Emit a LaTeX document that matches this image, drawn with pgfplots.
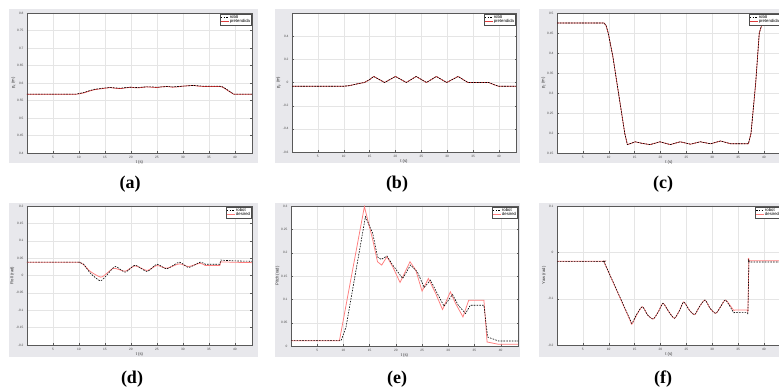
\documentclass[border=0pt]{standalone}
\usepackage{fontspec}
\setmainfont{Liberation Sans}
\newfontfamily\capfont{Liberation Serif}
\usepackage{pgfplots}
\pgfplotsset{compat=1.18}
\definecolor{panelgray}{RGB}{232,232,236}
\definecolor{redA}{RGB}{222,60,60}
\definecolor{redD}{RGB}{255,125,125}
\pgfplotsset{
  mat/.style={
    scale only axis, anchor=south west,
    axis background/.style={fill=white},
    xmin=0, xmax=43.3, xtick={5,10,...,40},
    grid=major, grid style={black!10, line width=0.3pt},
    axis line style={black!65, line width=0.4pt},
    tick style={black!65, line width=0.3pt},
    major tick length=1.5pt, tick align=inside,
    ticklabel style={font=\fontsize{3.2}{3.6}\selectfont, text=black!70},
    xticklabel style={yshift=0.5pt},
    label style={font=\fontsize{4.2}{4.6}\selectfont, text=black!80},
    xlabel={t (s)}, xlabel style={yshift=5pt},
    ylabel style={yshift=-5pt},
    /pgf/number format/assume math mode=true,
    /pgf/number format/fixed, /pgf/number format/precision=2,
    reverse legend,
    legend cell align=left,
    legend style={font=\fontsize{4.3}{4.8}\selectfont, at={(0.997,0.994)}, anchor=north east,
      draw=black!70, line width=0.3pt, inner sep=0.4pt, row sep=-1.8pt,
      nodes={inner sep=0.7pt}},
    legend image code/.code={\draw[#1] (0pt,0pt) -- (8pt,0pt);},
  },
  rob/.style={black, line width=0.6pt, dash pattern=on 1.6pt off 1.2pt},
  desA/.style={redA, line width=0.7pt},
  desD/.style={redD, line width=0.75pt},
}
\begin{document}
\begin{tikzpicture}
\useasboundingbox (0pt,0pt) rectangle (779pt,390pt);
\clip (0pt,0pt) rectangle (779pt,390pt);
\fill[white] (0pt,0pt) rectangle (779pt,390pt);
\fill[panelgray] (9pt,227pt) rectangle (258pt,381pt);
\fill[panelgray] (275pt,227pt) rectangle (520pt,381pt);
\fill[panelgray] (539pt,227pt) rectangle (790pt,381pt);
\fill[panelgray] (9pt,33pt) rectangle (258pt,187pt);
\fill[panelgray] (275pt,33pt) rectangle (520pt,187pt);
\fill[panelgray] (539pt,33pt) rectangle (790pt,187pt);

% (a)
\begin{axis}[mat, at={(27pt,237pt)}, width=225pt, height=140pt,
  ymin=0.4, ymax=0.8, ytick={0.4,0.45,...,0.81}, ylabel={p\textsubscript{x} (m)}]
\addplot[desA] coordinates {(0,0.568) (9.5,0.568) (10,0.569) (11,0.572) (12,0.577) (13,0.581) (14,0.583) (15,0.585) (16,0.587) (17,0.585) (18,0.584) (19,0.586) (20,0.588) (21,0.586) (22,0.587) (23,0.589) (24,0.588) (25,0.587) (26,0.589) (27,0.590) (28,0.588) (29,0.589) (30,0.591) (31,0.592) (32,0.593) (33,0.591) (34,0.590) (35,0.590) (36,0.590) (37,0.590) (37.5,0.589) (38,0.585) (39,0.575) (39.8,0.568) (43.3,0.568)};
\addlegendentry{pretendida}
\addplot[rob] coordinates {(0,0.568) (9.5,0.568) (10,0.570) (11,0.573) (12,0.578) (13,0.582) (14,0.584) (15,0.586) (16,0.587) (17,0.586) (18,0.585) (19,0.587) (20,0.588) (21,0.587) (22,0.588) (23,0.589) (24,0.589) (25,0.588) (26,0.589) (27,0.590) (28,0.589) (29,0.590) (30,0.591) (31,0.592) (32,0.593) (33,0.592) (34,0.591) (35,0.591) (36,0.591) (37,0.591) (37.5,0.590) (38,0.586) (39,0.576) (39.8,0.568) (43.3,0.568)};
\addlegendentry{robô}
\end{axis}

% (b)
\begin{axis}[mat, at={(292pt,238pt)}, width=224pt, height=139pt,
  ymin=-0.6, ymax=0.6, ytick={-0.6,-0.4,...,0.41}, ylabel={p\textsubscript{y} (m)}]
\addplot[desA] coordinates {(0,-0.032) (10,-0.032) (11,-0.028) (12,-0.018) (13,-0.008) (14,0) (15,0.025) (15.8,0.052) (17.9,0) (20,0.052) (22.1,0) (24,0.052) (26,0) (27.9,0.052) (29.9,0) (32.1,0.052) (34,0) (38,0) (39,-0.018) (39.9,-0.032) (43.3,-0.032)};
\addlegendentry{pretendida}
\addplot[rob] coordinates {(0,-0.032) (10,-0.032) (11,-0.028) (12,-0.018) (13,-0.008) (14,0) (15,0.025) (15.8,0.052) (17.9,0) (20,0.052) (22.1,0) (24,0.052) (26,0) (27.9,0.052) (29.9,0) (32.1,0.052) (34,0) (38,0) (39,-0.018) (39.9,-0.032) (43.3,-0.032)};
\addlegendentry{robô}
\end{axis}

% (c)
\begin{axis}[mat, at={(557pt,237pt)}, width=224pt, height=140pt,
  ymin=0.15, ymax=0.5, ytick={0.15,0.2,...,0.51}, ylabel={p\textsubscript{z} (m)}]
\addplot[desA] coordinates {(0,0.475) (9.1,0.475) (9.5,0.468) (9.9,0.45) (10.8,0.391) (12.1,0.282) (13.1,0.199) (13.6,0.171) (14.3,0.174) (15.1,0.178) (16.5,0.174) (18.0,0.171) (19.9,0.178) (21.9,0.171) (23.8,0.178) (25.8,0.172) (27.7,0.178) (29.7,0.173) (31.6,0.180) (33.6,0.173) (37.0,0.173) (37.5,0.199) (38.4,0.324) (39.1,0.45) (39.7,0.475) (43.3,0.475)};
\addlegendentry{pretendida}
\addplot[rob] coordinates {(0,0.475) (9.1,0.475) (9.5,0.468) (9.9,0.45) (10.8,0.391) (12.1,0.282) (13.1,0.199) (13.6,0.171) (14.3,0.174) (15.1,0.178) (16.5,0.174) (18.0,0.171) (19.9,0.178) (21.9,0.171) (23.8,0.178) (25.8,0.172) (27.7,0.178) (29.7,0.173) (31.6,0.180) (33.6,0.173) (37.0,0.173) (37.5,0.199) (38.4,0.324) (39.1,0.45) (39.7,0.475) (43.3,0.475)};
\addlegendentry{robô}
\end{axis}

% (d)
\begin{axis}[mat, at={(27pt,45pt)}, width=225pt, height=139pt,
  ymin=-0.2, ymax=0.2, ytick={-0.2,-0.15,...,0.21}, ylabel={Roll (rad)}]
\addplot[desD, smooth, tension=0.4] coordinates {(0,0.0383) (9.7,0.0383) (10,0.0383) (10.4,0.036) (10.9,0.031) (12.2,0.0115) (14.2,-0.0048) (15.4,0.0067) (16.7,0.021) (18.9,0.0124) (20.8,0.0278) (23.1,0.0144) (25,0.0287) (26.9,0.021) (29.3,0.0335) (31.1,0.0258) (33.3,0.0354) (34.3,0.0287) (34.6,0.0287) (36.9,0.0287) (37.1,0.0287) (37.3,0.0392) (37.5,0.0392) (40,0.038) (43.3,0.037)};
\addlegendentry{desired}
\addplot[rob, smooth, tension=0.4] coordinates {(0,0.0383) (9.7,0.0383) (10,0.0383) (10.4,0.036) (10.9,0.0325) (12.2,0.0067) (14.1,-0.0153) (15.4,0.0019) (17,0.0258) (18.9,0.0096) (20.8,0.0297) (23.1,0.0115) (25,0.0325) (26.9,0.0191) (29.3,0.0383) (31.1,0.023) (33.3,0.0383) (34.3,0.0325) (34.6,0.0325) (36.9,0.0325) (37.1,0.0325) (37.3,0.044) (37.5,0.044) (40,0.042) (43.3,0.041)};
\addlegendentry{robot}
\end{axis}

% (e)
\begin{axis}[mat, at={(291pt,44pt)}, width=227pt, height=140pt,
  ymin=0, ymax=0.3, ytick={0,0.05,...,0.31}, ylabel={Pitch (rad)}]
\addplot[desD] coordinates {(0,0.0115) (9.24,0.0115) (14.0,0.2987) (15.6,0.227) (16.5,0.1805) (17.3,0.1734) (18.3,0.1913) (19.4,0.1698) (20.8,0.1361) (22.7,0.1805) (23.8,0.1626) (25,0.1175) (26.2,0.1447) (27.6,0.1125) (28.9,0.0781) (30.4,0.1160) (31.4,0.091) (32.8,0.0623) (33.9,0.0981) (36.8,0.0981) (37.4,0.0086) (39.6,0.0036) (43.3,0.0036)};
\addlegendentry{desired}
\addplot[rob] coordinates {(0,0.0115) (9.56,0.0115) (10.5,0.041) (14.2,0.277) (15.6,0.241) (16.5,0.191) (17.2,0.1855) (18.3,0.1927) (19.4,0.1734) (21.3,0.1447) (22.8,0.1734) (24.1,0.159) (25.4,0.1254) (26.6,0.1411) (27.9,0.1125) (29.2,0.0852) (30.8,0.1103) (31.9,0.0874) (33.3,0.0695) (34.2,0.0874) (36.8,0.0874) (37.5,0.0193) (39.6,0.0107) (43.3,0.0107)};
\addlegendentry{robot}
\end{axis}

% (f)
\begin{axis}[mat, at={(557pt,45pt)}, width=224pt, height=139pt,
  ymin=-0.2, ymax=0.1, ytick={-0.2,-0.1,0,0.1}, ylabel={Yaw (rad)}]
\addplot[desD, smooth, tension=0.4] coordinates {(0,-0.0194) (8.8,-0.0194) (9.04,-0.0194) (9.3,-0.0259) (14.0,-0.1437) (14.46,-0.1554) (15.4,-0.135) (16.5,-0.1173) (17.5,-0.135) (18.6,-0.1439) (19.6,-0.128) (20.5,-0.1101) (21.6,-0.128) (22.7,-0.1424) (23.7,-0.125) (24.5,-0.1072) (25.6,-0.125) (26.6,-0.1345) (27.5,-0.118) (28.6,-0.1029) (29.6,-0.121) (30.7,-0.1317) (31.7,-0.116) (32.6,-0.1029) (34.1,-0.1245) (34.4,-0.1245) (36.7,-0.1245) (36.9,-0.1245) (37.1,-0.018) (37.3,-0.018) (43.3,-0.018)};
\addlegendentry{desired}
\addplot[rob, smooth, tension=0.4] coordinates {(0,-0.0194) (8.8,-0.0194) (9.04,-0.0194) (9.3,-0.0259) (14.0,-0.1420) (14.46,-0.1532) (15.4,-0.134) (16.5,-0.1173) (17.5,-0.135) (18.6,-0.1439) (19.6,-0.128) (20.5,-0.1101) (21.6,-0.128) (22.7,-0.1424) (23.7,-0.125) (24.5,-0.1072) (25.6,-0.125) (26.6,-0.1345) (27.5,-0.118) (28.6,-0.1029) (29.6,-0.121) (30.7,-0.1317) (31.7,-0.116) (32.6,-0.1029) (34.1,-0.1295) (34.4,-0.1295) (36.7,-0.1295) (36.9,-0.1295) (37.1,-0.0209) (37.3,-0.0209) (43.3,-0.0209)};
\addlegendentry{robot}
\end{axis}

\node at (130pt,206pt) {\capfont\bfseries\fontsize{18}{20}\selectfont (a)};
\node at (397pt,206pt) {\capfont\bfseries\fontsize{18}{20}\selectfont (b)};
\node at (663pt,206pt) {\capfont\bfseries\fontsize{18}{20}\selectfont (c)};
\node at (132pt,11pt) {\capfont\bfseries\fontsize{18}{20}\selectfont (d)};
\node at (397pt,11pt) {\capfont\bfseries\fontsize{18}{20}\selectfont (e)};
\node at (663pt,11pt) {\capfont\bfseries\fontsize{18}{20}\selectfont (f)};
\end{tikzpicture}
\end{document}
